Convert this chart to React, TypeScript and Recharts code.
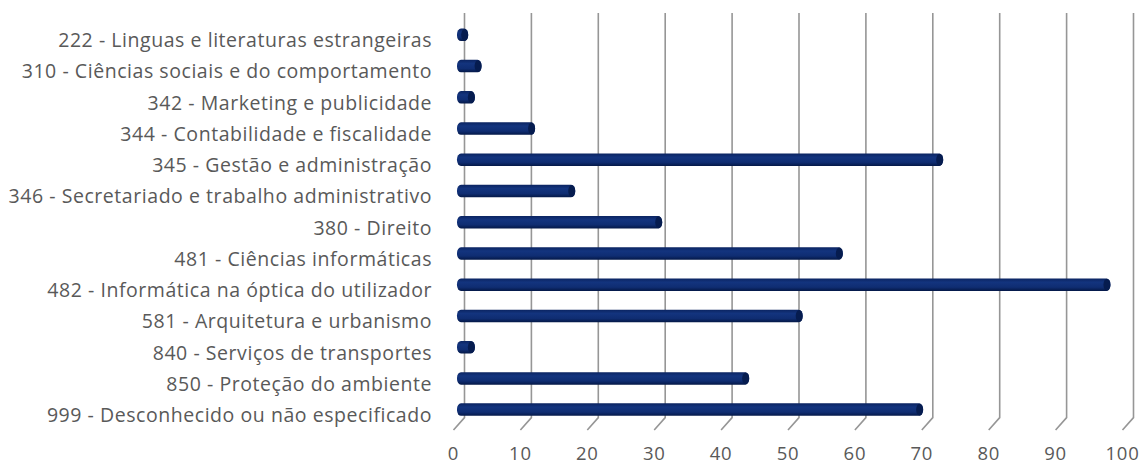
import React from "react";
import { BarChart, Bar, XAxis, YAxis, CartesianGrid } from "recharts";

const categories = [
  "222 - Linguas e literaturas estrangeiras",
  "310 - Ciências sociais e do comportamento",
  "342 - Marketing e publicidade",
  "344 - Contabilidade e fiscalidade",
  "345 - Gestão e administração",
  "346 - Secretariado e trabalho administrativo",
  "380 - Direito",
  "481 - Ciências informáticas",
  "482 - Informática na óptica do utilizador",
  "581 - Arquitetura e urbanismo",
  "840 - Serviços de transportes",
  "850 - Proteção do ambiente",
  "999 - Desconhecido ou não especificado",
];
const values = [1, 3, 2, 11, 72, 17, 30, 57, 97, 51, 2, 43, 69];
const xTicks = [0, 10, 20, 30, 40, 50, 60, 70, 80, 90, 100];

const data = categories.map((name, i) => ({ name, value: values[i] }));

const FONT = "'Open Sans', Roboto, sans-serif";

const CylinderBar = (props: any) => {
  const { x, y, width, height } = props;
  if (width <= 0) return null;
  const ext = 4.5;
  const w = width + ext;
  const cap = 3.5;
  return (
    <g>
      <rect x={x} y={y} width={w} height={height} rx={4} ry={height / 2.2} fill="url(#barGrad)" />
      <ellipse cx={x + w - cap} cy={y + height / 2} rx={cap} ry={height / 2 - 0.3} fill="#061c4f" />
    </g>
  );
};

const GridLine = (props: any) => {
  const { x1, y1, y2 } = props;
  return (
    <path
      key={`g-${x1}`}
      d={`M${x1 + 7.5},${y1 - 6.6} L${x1 + 7.5},${y2 - 8} L${x1 - 3.5},${y2 + 4.4}`}
      stroke="#969696"
      strokeWidth={1.6}
      fill="none"
    />
  );
};

const XTick = (props: any) => {
  const { x, y, payload } = props;
  return (
    <text
      x={x - 3.5}
      y={y + 26.5}
      textAnchor="middle"
      fill="#595959"
      fontSize={18.5}
      fontWeight={500}
      letterSpacing={0.7}
      fontFamily={FONT}
    >
      {payload.value}
    </text>
  );
};

const YTick = (props: any) => {
  const { x, y, payload } = props;
  return (
    <text
      x={x}
      y={y + 5}
      dy="0.36em"
      textAnchor="end"
      fill="#595959"
      fontSize={19.5}
      fontWeight={500}
      letterSpacing={0.55}
      fontFamily={FONT}
    >
      {payload.value}
    </text>
  );
};

export default function App() {
  return (
    <div style={{ width: 1140, height: 466, background: "#fff" }}>
      <style>{"body{margin:0}"}</style>
      <BarChart
        width={1140}
        height={466}
        data={data}
        layout="vertical"
        margin={{ top: 19.6, right: 14, bottom: 0.4, left: 0 }}
        barCategoryGap={0}
      >
        <defs>
          <linearGradient id="barGrad" x1="0" y1="0" x2="0" y2="1">
            <stop offset="0" stopColor="#0b2461" />
            <stop offset="0.3" stopColor="#13347e" />
            <stop offset="0.7" stopColor="#0f2d72" />
            <stop offset="1" stopColor="#041847" />
          </linearGradient>
        </defs>
        <CartesianGrid horizontal={false} vertical={GridLine} />
        <XAxis
          type="number"
          domain={[0, 100]}
          ticks={xTicks}
          interval={0}
          axisLine={false}
          tickLine={false}
          height={40}
          tick={XTick}
        />
        <YAxis
          type="category"
          dataKey="name"
          width={457}
          axisLine={false}
          tickLine={false}
          tickSize={0}
          tickMargin={25}
          interval={0}
          tick={YTick}
        />
        <Bar dataKey="value" barSize={12.5} isAnimationActive={false} shape={CylinderBar} />
      </BarChart>
    </div>
  );
}
